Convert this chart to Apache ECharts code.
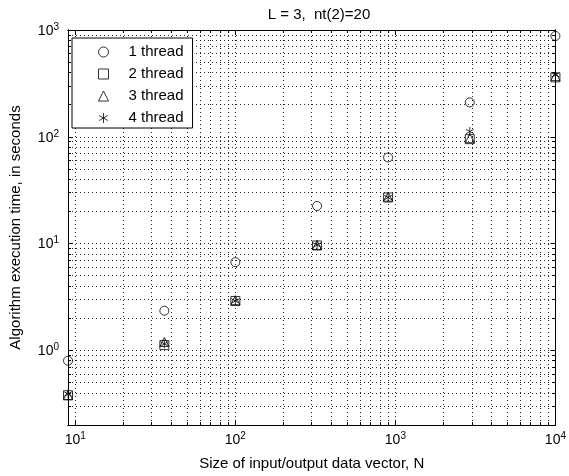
<!DOCTYPE html>
<html><head><meta charset="utf-8">
<script src="https://cdn.jsdelivr.net/npm/echarts@6/dist/echarts.min.js"></script>
<style>html,body{margin:0;padding:0;background:#fff}#c{width:569px;height:476px}</style>
</head><body><div id="c"></div>
<script>
var sizesN = [9, 36, 100, 324, 900, 2916, 10000];
var thread1 = [0.8, 2.35, 6.7, 22.5, 64, 210, 880];
var thread2 = [0.38, 1.12, 2.9, 9.6, 27, 95, 360];
var thread3 = [0.38, 1.2, 2.95, 9.7, 27.5, 97, 370];
var thread4 = [0.39, 1.15, 2.9, 9.7, 27, 112, 380];
var seriesNames = ['1 thread', '2 thread', '3 thread', '4 thread'];
var xMajor = [10, 100, 1000, 10000];
var yMajor = [1, 10, 100, 1000];
var xMinor = [20,30,40,50,60,70,80,90,200,300,400,500,600,700,800,900,2000,3000,4000,5000,6000,7000,8000,9000];
var yMinor = [0.3,0.4,0.5,0.6,0.7,0.8,0.9,2,3,4,5,6,7,8,9,20,30,40,50,60,70,80,90,200,300,400,500,600,700,800,900];
var titleText = 'L = 3,  nt(2)=20';
var xName = 'Size of input/output data vector, N';
var yName = 'Algorithm execution time, in seconds';

var FONT = 'Liberation Sans, Arial, sans-serif';
var chart = echarts.init(document.getElementById('c'));
function pow10Label(v){
  var e = Math.round(Math.log(v)/Math.LN10);
  return '{b|10}{s|' + e + '}';
}
var labelRich = {
  b: {fontSize: 14, fontFamily: FONT, color: '#000', verticalAlign: 'bottom', lineHeight: 16},
  s: {fontSize: 10, fontFamily: FONT, color: '#000', verticalAlign: 'top', lineHeight: 10, padding: [0,0,10,0]}
};
function mkAxis(pos, min, max, ticks, len, labels, extra){
  var a = {
    type: 'log', logBase: 10, position: pos, min: min, max: max,
    axisLine: {show: true, onZero: false, lineStyle: {color: '#000', width: 1}},
    axisTick: {show: true, inside: true, length: len, customValues: ticks, lineStyle: {color: '#000'}},
    axisLabel: labels !== null ? {show: true, customValues: ticks, formatter: pow10Label, rich: labelRich, margin: labels} : {show: false},
    splitLine: {show: false}, minorTick: {show: false}, minorSplitLine: {show: false}
  };
  if (extra) for (var k in extra) a[k] = extra[k];
  return a;
}
var XMIN = 9, XMAX = 10000, YMIN = 0.2, YMAX = 1000;
var gridStyle = {color: '#000', width: 1, type: [1, 3], opacity: 0.85};
var gridLines = [];
xMajor.concat(xMinor).forEach(function(v){ gridLines.push({xAxis: v}); });
yMajor.concat(yMinor).forEach(function(v){ gridLines.push({yAxis: v}); });

var symbols = ['circle', 'rect', 'triangle', 'path://M0,-6L0,6M-5.2,-3L5.2,3M-5.2,3L5.2,-3'];
var sizes = [9, 9, 9, 9];
var datasets = [thread1, thread2, thread3, thread4];
var series = [{
  type: 'line', name: 'grid', data: [], silent: true, z: 1,
  markLine: {silent: true, symbol: ['none','none'], label: {show: false}, lineStyle: gridStyle, animation: false, data: gridLines}
}];
datasets.forEach(function(d, i){
  series.push({
    type: 'scatter', name: seriesNames[i], symbol: symbols[i], symbolSize: sizes[i], symbolKeepAspect: true, z: 5,
    itemStyle: {color: 'rgba(0,0,0,0)', borderColor: '#000', borderWidth: 1},
    data: sizesN.map(function(x, j){ return [x, d[j]]; })
  });
});

chart.setOption({
  animation: false,
  backgroundColor: '#fff',
  textStyle: {fontFamily: FONT},
  title: {text: titleText, left: 314, top: 2, textAlign: 'center',
    textStyle: {fontSize: 15, fontWeight: 'normal', color: '#000', fontFamily: FONT}},
  grid: {left: 61, top: 30, right: 7, bottom: 51, containLabel: false},
  legend: {
    data: seriesNames, orient: 'vertical', left: 72, top: 38,
    padding: [6, 9, 2, 26], itemWidth: 10, itemHeight: 10, itemGap: 6,
    backgroundColor: '#fff', borderColor: '#000', borderWidth: 1, z: 10,
    textStyle: {fontSize: 15, lineHeight: 16, color: '#000', fontFamily: FONT, padding: [0, 0, 0, 15]},
    itemStyle: {borderColor: '#000', borderWidth: 1}
  },
  xAxis: [
    mkAxis('bottom', XMIN, XMAX, xMajor, 5, 6, {name: xName, nameLocation: 'middle', nameGap: 31,
      nameTextStyle: {fontSize: 15, color: '#000', fontFamily: FONT}}),
    mkAxis('bottom', XMIN, XMAX, xMinor, 3, null),
    mkAxis('top', XMIN, XMAX, xMajor, 5, null),
    mkAxis('top', XMIN, XMAX, xMinor, 3, null)
  ],
  yAxis: [
    mkAxis('left', YMIN, YMAX, yMajor, 5, 9, {name: yName, nameLocation: 'middle', nameGap: 45,
      nameTextStyle: {fontSize: 15, color: '#000', fontFamily: FONT}}),
    mkAxis('left', YMIN, YMAX, yMinor, 3, null),
    mkAxis('right', YMIN, YMAX, yMajor, 5, null),
    mkAxis('right', YMIN, YMAX, yMinor, 3, null)
  ],
  series: series
});
</script></body></html>
